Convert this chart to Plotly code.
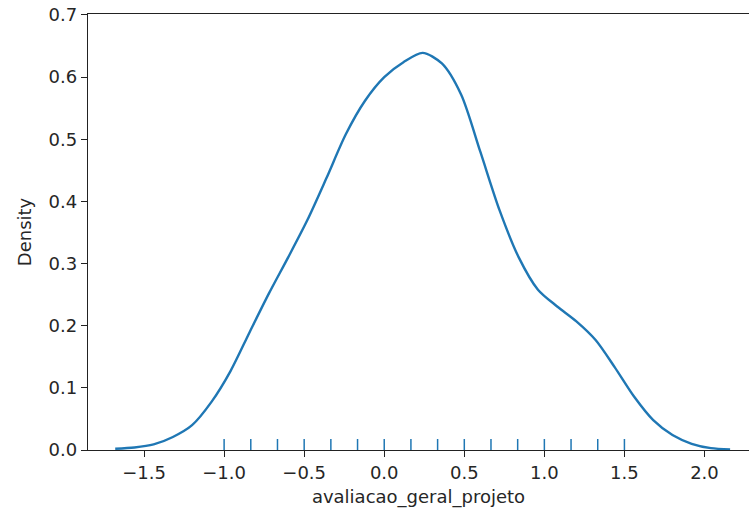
import plotly.graph_objects as go

# KDE curve
kde_x = [-1.68, -1.56, -1.44, -1.32, -1.20, -1.08, -0.96, -0.84, -0.72, -0.60,
         -0.48, -0.36, -0.24, -0.12, 0.00, 0.12, 0.24, 0.36, 0.48, 0.60,
         0.72, 0.84, 0.96, 1.08, 1.20, 1.32, 1.44, 1.56, 1.68, 1.80,
         1.92, 2.04, 2.16]
kde_y = [0.002, 0.004, 0.009, 0.021, 0.040, 0.077, 0.127, 0.190, 0.252, 0.310,
         0.370, 0.438, 0.508, 0.562, 0.600, 0.624, 0.639, 0.622, 0.572, 0.480,
         0.386, 0.310, 0.258, 0.231, 0.207, 0.177, 0.133, 0.086, 0.048, 0.024,
         0.010, 0.003, 0.001]

# Rug observations
rug_values = [-1.0, -5/6, -4/6, -0.5, -2/6, -1/6, 0.0, 1/6, 2/6, 0.5,
              4/6, 5/6, 1.0, 7/6, 8/6, 1.5]

x_ticks = [-1.5, -1.0, -0.5, 0.0, 0.5, 1.0, 1.5, 2.0]
y_ticks = [0.0, 0.1, 0.2, 0.3, 0.4, 0.5, 0.6, 0.7]

BLUE = "#1f77b4"
TXT = "#262626"
FONT = "DejaVu Sans"

fig = go.Figure()
fig.add_trace(go.Scatter(x=kde_x, y=kde_y, mode="lines",
                         line=dict(color=BLUE, width=2.4, shape="spline", smoothing=0.8),
                         hoverinfo="skip", showlegend=False))

rug_h = 0.0177
rx, ry = [], []
for v in rug_values:
    rx += [v, v, None]
    ry += [0, rug_h, None]
fig.add_trace(go.Scatter(x=rx, y=ry, mode="lines",
                         line=dict(color=BLUE, width=1.5),
                         hoverinfo="skip", showlegend=False))

axis_common = dict(showgrid=False, zeroline=False, showline=True,
                   linecolor="#222", linewidth=1.3, ticks="outside",
                   ticklen=6, tickwidth=1.3, tickcolor="#222",
                   tickfont=dict(family=FONT, size=18, color=TXT))

fig.update_layout(
    width=749, height=517,
    margin=dict(l=88, r=0, t=14, b=67),
    paper_bgcolor="white", plot_bgcolor="white",
    font=dict(family=FONT, size=18, color=TXT),
    xaxis=dict(range=[-1.85, 2.278], tickvals=x_ticks, tickformat=".1f",
               mirror=True,
               title=dict(text="avaliacao_geral_projeto", standoff=8,
                          font=dict(family=FONT, size=18, color=TXT)),
               **axis_common),
    yaxis=dict(range=[0, 0.7016], tickvals=y_ticks, tickformat=".1f",
               title=dict(text="Density", standoff=12,
                          font=dict(family=FONT, size=18, color=TXT)),
               **axis_common),
)

fig.write_html("out.html")
